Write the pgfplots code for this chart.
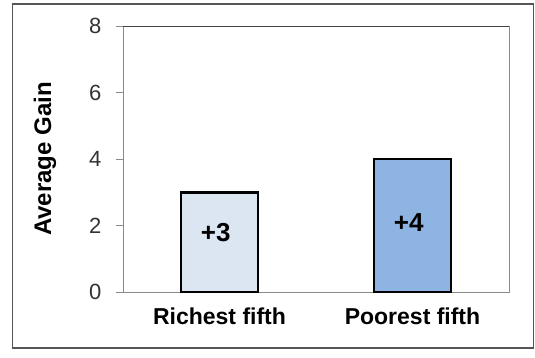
\documentclass[border=0pt]{standalone}
\usepackage{pgfplots}
\pgfplotsset{compat=1.18}
\usepackage{fontspec}
\setmainfont{Liberation Sans}
\definecolor{richfill}{HTML}{DCE6F2}
\definecolor{poorfill}{HTML}{8EB4E3}
\definecolor{axisgray}{HTML}{8A8A8A}
\definecolor{ticktext}{HTML}{333333}
\definecolor{framegray}{HTML}{555555}
\begin{document}
\begin{tikzpicture}
\path[use as bounding box] (0bp,0bp) rectangle (535bp,358bp);
\draw[framegray, line width=1.3bp] (12.5bp,10bp) rectangle (533.5bp,354bp);
\begin{axis}[
  at={(123bp,66bp)}, anchor=south west,
  scale only axis, width=386bp, height=266bp,
  xmin=-0.5, xmax=1.5, ymin=0, ymax=8,
  ytick={0,2,4,6,8},
  xtick={0,1},
  xticklabels={Richest fifth, Poorest fifth},
  major x tick style={draw=none},
  extra x ticks={-0.5,0.5,1.5},
  extra x tick labels={},
  extra x tick style={major tick length=7bp, tick style={axisgray, line width=0.8bp}},
  tick align=outside,
  xtick pos=bottom, ytick pos=left,
  major tick length=7bp,
  tick style={axisgray, line width=0.8bp},
  axis line style={axisgray, line width=0.9bp},
  /pgf/number format/assume math mode=true,
  yticklabel style={font=\fontsize{22bp}{24bp}\selectfont, text=ticktext, xshift=-11bp},
  xticklabel style={font=\bfseries\fontsize{23bp}{25bp}\selectfont, text=black, yshift=-5bp},
  bar width=77bp,
  clip=false,
]
\addplot[ybar, draw=black, line width=2.5bp, fill=richfill] coordinates {(0,3)};
\addplot[ybar, draw=black, line width=2.5bp, fill=poorfill] coordinates {(1,4)};
\draw[framegray!80!black, line width=1bp] (rel axis cs:0,1) -- (rel axis cs:1,1);
\node[font=\bfseries\fontsize{26bp}{28bp}\selectfont] at (axis cs:-0.02,1.80) {+3};
\node[font=\bfseries\fontsize{26bp}{28bp}\selectfont] at (axis cs:0.98,2.08) {+4};
\end{axis}
\node[rotate=90, font=\bfseries\fontsize{24bp}{26bp}\selectfont] at (45bp,199bp) {Average Gain};
\end{tikzpicture}
\end{document}
